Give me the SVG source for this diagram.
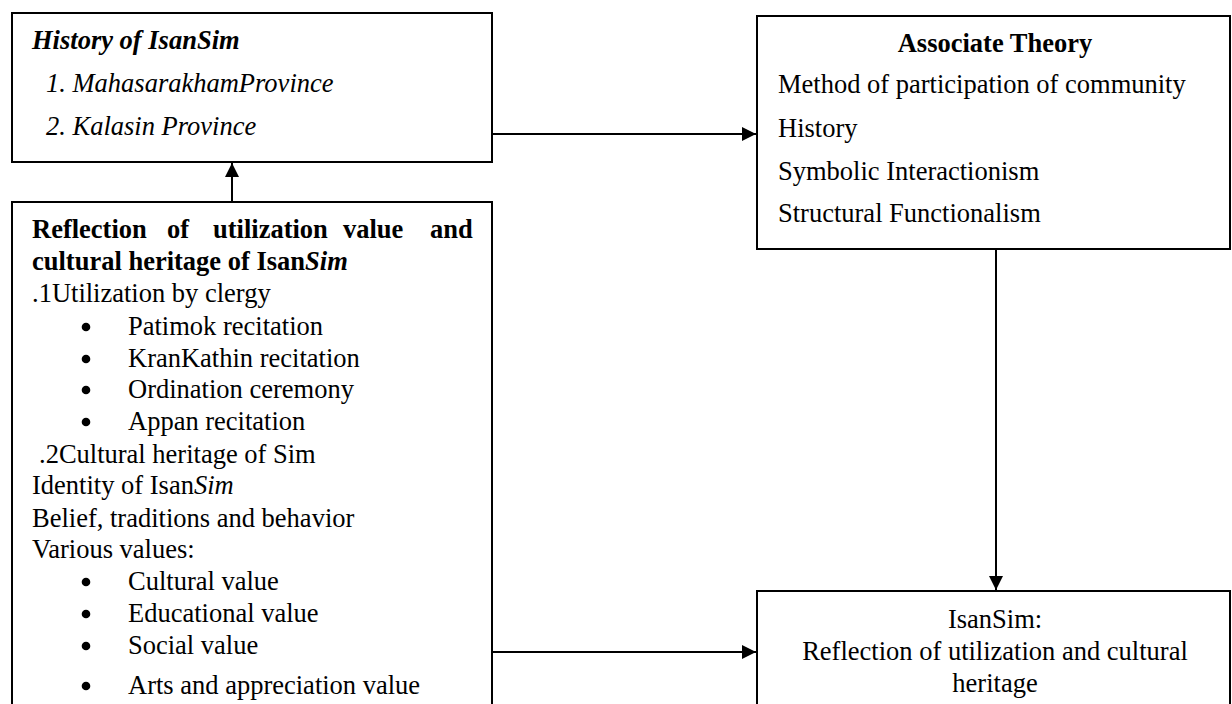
<svg xmlns="http://www.w3.org/2000/svg" width="1232" height="704" viewBox="0 0 1232 704">
<style>
.box{fill:#fff;stroke:#000;stroke-width:2}
.t{font-family:"Liberation Serif","Times New Roman",serif;font-size:26.5px;fill:#000}
.b{font-weight:bold}
.i{font-style:italic}
.c{text-anchor:middle}
.ln{stroke:#000;stroke-width:2;fill:none}
.dot{fill:#000}
</style>
<defs>
<marker id="arr" viewBox="0 0 10 10" refX="10" refY="5" markerWidth="15" markerHeight="14" markerUnits="userSpaceOnUse" orient="auto">
<path d="M0,0 L10,5 L0,10 z" fill="#000"/>
</marker>
</defs>
<rect width="1232" height="704" fill="#fff"/>
<g id="connectors">
<line class="ln" x1="492" y1="134" x2="756" y2="134" marker-end="url(#arr)"/>
<line class="ln" x1="232" y1="202" x2="232" y2="163" marker-end="url(#arr)"/>
<line class="ln" x1="996" y1="249" x2="996" y2="590" marker-end="url(#arr)"/>
<line class="ln" x1="492" y1="652" x2="756" y2="652" marker-end="url(#arr)"/>
</g>
<g id="history">
<rect class="box" x="12" y="13" width="480" height="149"/>
<text class="t b i" x="32" y="49">History of IsanSim</text>
<text class="t i" x="46" y="92">1. MahasarakhamProvince</text>
<text class="t i" x="46" y="135">2. Kalasin Province</text>
</g>
<g id="reflection">
<rect class="box" x="12" y="202" width="480" height="530"/>
<text class="t b" y="238"><tspan x="32">Reflection</tspan><tspan x="167">of</tspan><tspan x="213">utilization</tspan><tspan x="343">value</tspan><tspan x="430">and</tspan></text>
<text class="t b" x="32" y="270">cultural heritage of Isan<tspan class="i">Sim</tspan></text>
<text class="t" x="32" y="302">.1Utilization by clergy</text>
<g>
<circle class="dot" cx="86" cy="327" r="4.3"/>
<circle class="dot" cx="86" cy="359" r="4.3"/>
<circle class="dot" cx="86" cy="390" r="4.3"/>
<circle class="dot" cx="86" cy="422" r="4.3"/>
<circle class="dot" cx="86" cy="582" r="4.3"/>
<circle class="dot" cx="86" cy="614" r="4.3"/>
<circle class="dot" cx="86" cy="646" r="4.3"/>
<circle class="dot" cx="86" cy="686" r="4.3"/>
</g>
<g class="t">
<text x="128" y="335">Patimok recitation</text>
<text x="128" y="367">KranKathin recitation</text>
<text x="128" y="398">Ordination ceremony</text>
<text x="128" y="430">Appan recitation</text>
</g>
<text class="t" x="39" y="463">.2Cultural heritage of Sim</text>
<text class="t" x="32" y="494">Identity of Isan<tspan class="i">Sim</tspan></text>
<text class="t" x="32" y="527">Belief, traditions and behavior</text>
<text class="t" x="32" y="558">Various values:</text>
<g class="t">
<text x="128" y="590">Cultural value</text>
<text x="128" y="622">Educational value</text>
<text x="128" y="654">Social value</text>
<text x="128" y="694">Arts and appreciation value</text>
</g>
</g>
<g id="theory">
<rect class="box" x="757" y="16" width="473" height="233"/>
<text class="t b c" x="995" y="52">Associate Theory</text>
<text class="t" x="778" y="93">Method of participation of community</text>
<text class="t" x="778" y="137">History</text>
<text class="t" x="778" y="180">Symbolic Interactionism</text>
<text class="t" x="778" y="222">Structural Functionalism</text>
</g>
<g id="result">
<rect class="box" x="757" y="591" width="473" height="140"/>
<text class="t c" x="995" y="628">IsanSim:</text>
<text class="t c" x="995" y="660">Reflection of utilization and cultural</text>
<text class="t c" x="995" y="692">heritage</text>
</g>
</svg>
